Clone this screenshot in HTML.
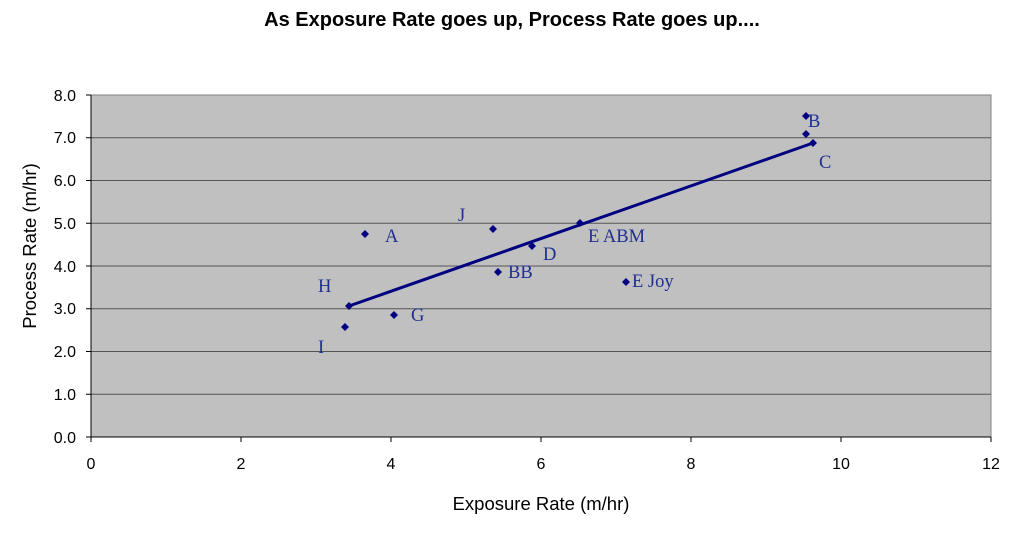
<!DOCTYPE html>
<html><head><style>body{margin:0;background:#fff}</style></head><body>
<svg width="1024" height="555" xmlns="http://www.w3.org/2000/svg" font-family="Liberation Sans, sans-serif">
<text x="512" y="26" text-anchor="middle" font-weight="bold" font-size="20">As Exposure Rate goes up, Process Rate goes up....</text>
<rect x="91" y="95" width="900" height="342" fill="#c0c0c0" stroke="#808080"/>
<g stroke="#555" stroke-width="1">
<line x1="91" y1="137.75" x2="991" y2="137.75"/><line x1="91" y1="180.5" x2="991" y2="180.5"/>
<line x1="91" y1="223.25" x2="991" y2="223.25"/><line x1="91" y1="266" x2="991" y2="266"/>
<line x1="91" y1="308.75" x2="991" y2="308.75"/><line x1="91" y1="351.5" x2="991" y2="351.5"/>
<line x1="91" y1="394.25" x2="991" y2="394.25"/>
</g>
<g stroke="#000" stroke-width="1">
<line x1="91" y1="95" x2="91" y2="437"/><line x1="91" y1="437" x2="991" y2="437"/>
<line x1="86" y1="95" x2="91" y2="95"/><line x1="86" y1="137.75" x2="91" y2="137.75"/><line x1="86" y1="180.5" x2="91" y2="180.5"/><line x1="86" y1="223.25" x2="91" y2="223.25"/><line x1="86" y1="266" x2="91" y2="266"/><line x1="86" y1="308.75" x2="91" y2="308.75"/><line x1="86" y1="351.5" x2="91" y2="351.5"/><line x1="86" y1="394.25" x2="91" y2="394.25"/><line x1="86" y1="437" x2="91" y2="437"/>
<line x1="91" y1="437" x2="91" y2="442"/><line x1="241" y1="437" x2="241" y2="442"/><line x1="391" y1="437" x2="391" y2="442"/><line x1="541" y1="437" x2="541" y2="442"/><line x1="691" y1="437" x2="691" y2="442"/><line x1="841" y1="437" x2="841" y2="442"/><line x1="991" y1="437" x2="991" y2="442"/>
</g>
<g font-size="16" text-anchor="end">
<text x="76" y="101">8.0</text><text x="76" y="143">7.0</text><text x="76" y="186">6.0</text><text x="76" y="229">5.0</text><text x="76" y="272">4.0</text><text x="76" y="314">3.0</text><text x="76" y="357">2.0</text><text x="76" y="400">1.0</text><text x="76" y="443">0.0</text>
</g>
<g font-size="16" text-anchor="middle">
<text x="91" y="469">0</text><text x="241" y="469">2</text><text x="391" y="469">4</text><text x="541" y="469">6</text><text x="691" y="469">8</text><text x="841" y="469">10</text><text x="991" y="469">12</text>
</g>
<g font-size="18.5" text-anchor="middle">
<text x="541" y="510">Exposure Rate (m/hr)</text>
<text transform="translate(36,246) rotate(-90)">Process Rate (m/hr)</text>
</g>
<line x1="349" y1="306" x2="813" y2="143" stroke="#000080" stroke-width="3"/>
<g fill="#000080">
<path d="M365 230l4 4-4 4-4-4z"/><path d="M493 225l4 4-4 4-4-4z"/><path d="M532 242l4 4-4 4-4-4z"/><path d="M580 219l4 4-4 4-4-4z"/><path d="M498 268l4 4-4 4-4-4z"/><path d="M626 278l4 4-4 4-4-4z"/><path d="M349 302l4 4-4 4-4-4z"/><path d="M394 311l4 4-4 4-4-4z"/><path d="M345 323l4 4-4 4-4-4z"/><path d="M806 112l4 4-4 4-4-4z"/><path d="M806 130l4 4-4 4-4-4z"/><path d="M813 139l4 4-4 4-4-4z"/>
</g>
<g font-family="Liberation Serif, serif" font-size="18.5" fill="#1f2f8f">
<text x="385" y="242">A</text><text x="458" y="221">J</text><text x="543" y="260">D</text><text x="588" y="242">E ABM</text><text x="508" y="278">BB</text><text x="632" y="287">E Joy</text><text x="318" y="292">H</text><text x="411" y="321">G</text><text x="318" y="353">I</text><text x="808" y="127">B</text><text x="819" y="168">C</text>
</g>
</svg>
</body></html>
